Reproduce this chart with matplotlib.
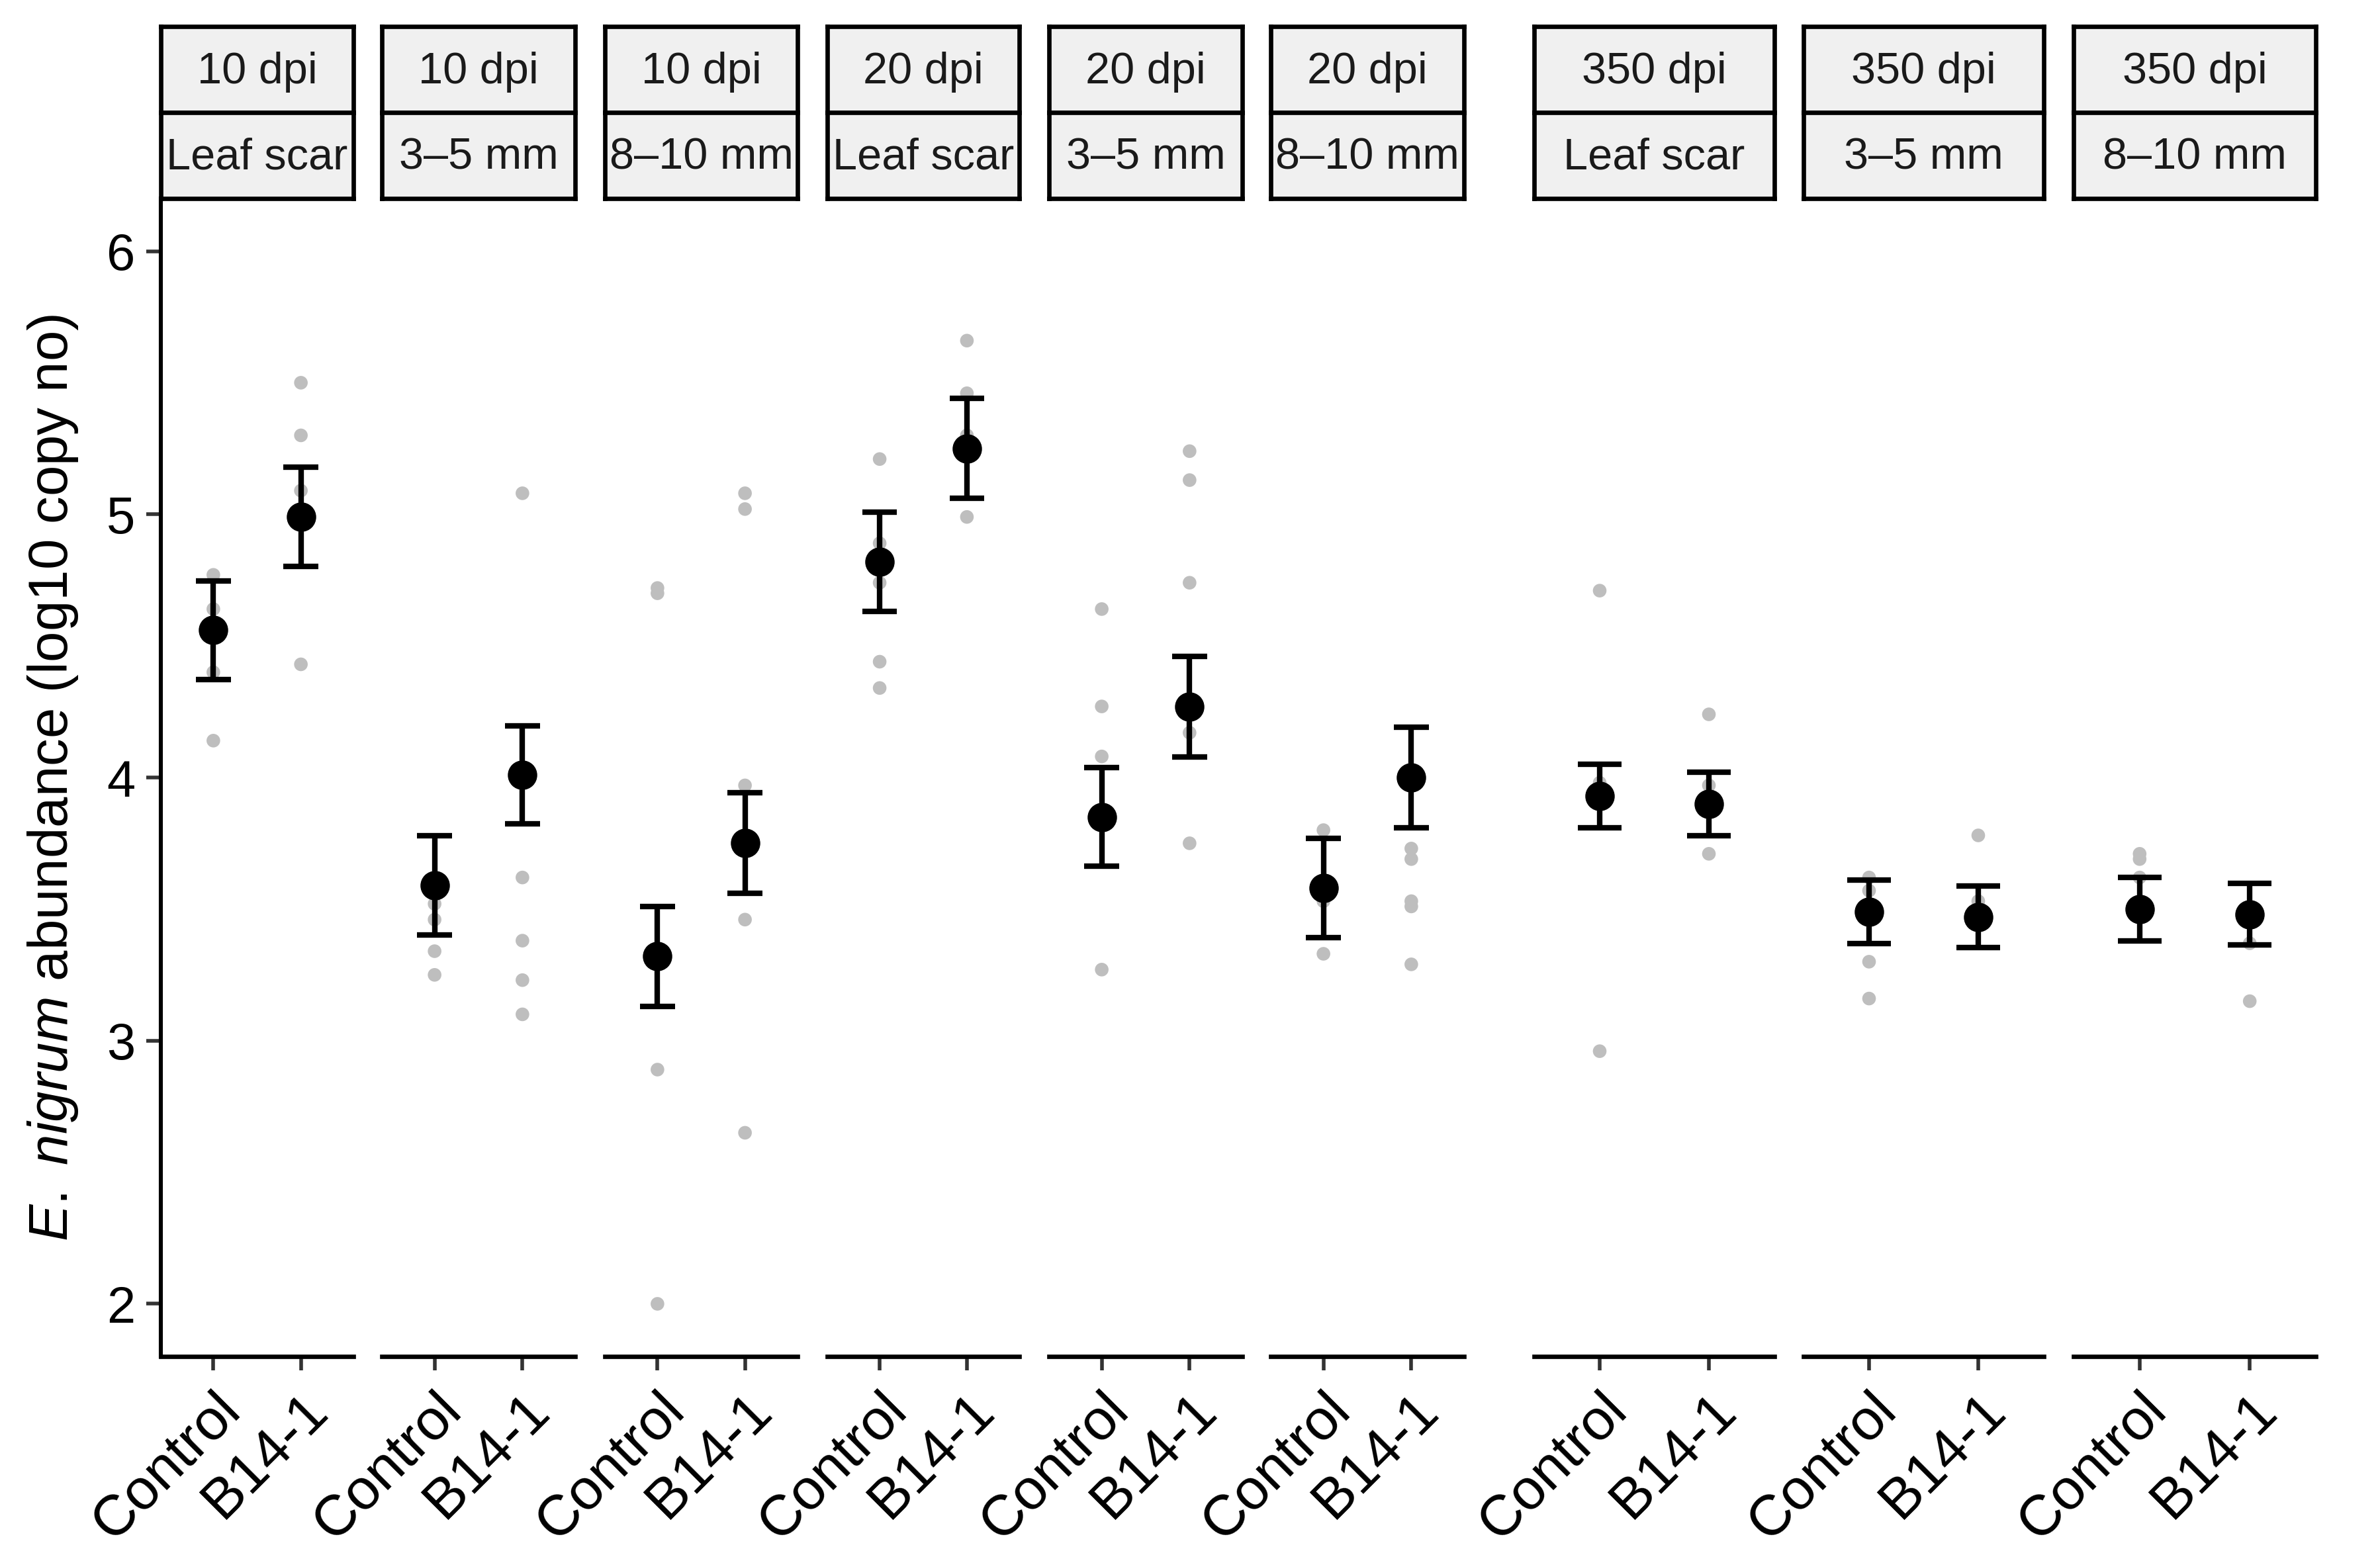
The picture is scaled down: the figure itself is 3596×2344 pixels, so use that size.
import matplotlib
matplotlib.use("Agg")
import matplotlib.pyplot as plt

plt.rcParams['font.family'] = ['Liberation Sans', 'DejaVu Sans']
plt.rcParams['mathtext.fontset'] = 'custom'
plt.rcParams['mathtext.rm'] = 'Liberation Sans'
plt.rcParams['mathtext.it'] = 'Liberation Sans:italic'

# facet labels
dpi_labels = ['10 dpi', '10 dpi', '10 dpi', '20 dpi', '20 dpi', '20 dpi',
              '350 dpi', '350 dpi', '350 dpi']
tissue_labels = ['Leaf scar', '3–5 mm', '8–10 mm', 'Leaf scar', '3–5 mm', '8–10 mm',
                 'Leaf scar', '3–5 mm', '8–10 mm']
groups = ['Control', 'B14-1']

# means and standard errors (Control, B14-1) per panel
ctrl_mean = [4.56, 3.59, 3.32, 4.82, 3.85, 3.58, 3.93, 3.49, 3.50]
ctrl_se = [0.187, 0.188, 0.19, 0.188, 0.187, 0.188, 0.12, 0.12, 0.12]
b14_mean = [4.99, 4.01, 3.75, 5.25, 4.27, 4.00, 3.90, 3.47, 3.48]
b14_se = [0.189, 0.185, 0.191, 0.19, 0.191, 0.19, 0.12, 0.117, 0.117]

# individual replicates
ctrl_pts = [
    [4.77, 4.64, 4.40, 4.14],
    [3.52, 3.46, 3.34, 3.25],
    [4.72, 4.70, 2.89, 2.00],
    [5.21, 4.89, 4.74, 4.44, 4.34],
    [4.64, 4.27, 4.08, 3.27],
    [3.80, 3.53, 3.33],
    [4.71, 3.98, 2.96],
    [3.62, 3.57, 3.30, 3.16],
    [3.71, 3.69, 3.62],
]
b14_pts = [
    [5.50, 5.30, 5.09, 4.43],
    [5.08, 3.62, 3.38, 3.23, 3.10],
    [5.08, 5.02, 3.97, 3.46, 2.65],
    [5.66, 5.46, 5.30, 4.99],
    [5.24, 5.13, 4.74, 4.17, 3.75],
    [3.73, 3.69, 3.53, 3.51, 3.29],
    [4.24, 3.97, 3.71],
    [3.78, 3.53, 3.50],
    [3.50, 3.37, 3.15],
]

W, H = 3596, 2344
fig = plt.figure(figsize=(W / 200, H / 200), dpi=200)

# panel extents in pixels
panel_x = [(243, 534), (577, 869), (914, 1205), (1250, 1540), (1585, 1877),
           (1920, 2212), (2318, 2681), (2725, 3088), (3133, 3499)]
top_px, bot_px = 300, 2050
strip_h = 130

for i, (x0, x1) in enumerate(panel_x):
    ax = fig.add_axes([x0 / W, 1 - bot_px / H, (x1 - x0) / W, (bot_px - top_px) / H])
    xs = [1, 2]
    for x, pts in zip(xs, [ctrl_pts[i], b14_pts[i]]):
        ax.scatter([x] * len(pts), pts, s=55, color='#BEBEBE', edgecolors='none', zorder=1)
    means = [ctrl_mean[i], b14_mean[i]]
    ses = [ctrl_se[i], b14_se[i]]
    for x, m, se in zip(xs, means, ses):
        ax.vlines(x, m - se, m + se, color='black', lw=3, zorder=2)
        ax.hlines([m - se, m + se], x - 0.2, x + 0.2, color='black', lw=3, zorder=2)
    ax.plot(xs, means, 'o', color='black', ms=15, ls='none', zorder=3)

    ax.set_xlim(0.4, 2.6)
    ax.set_ylim(1.8, 6.2)
    ax.set_xticks(xs)
    ax.set_xticklabels(groups, rotation=45, ha='right', va='top',
                       rotation_mode='anchor', fontsize=31)
    ax.tick_params(axis='x', length=7.5, width=2, color='#333333', pad=7)
    for s in ['top', 'right']:
        ax.spines[s].set_visible(False)
    ax.spines['bottom'].set_linewidth(2.4)
    if i == 0:
        ax.spines['left'].set_linewidth(2.2)
        ax.set_yticks([2, 3, 4, 5, 6])
        ax.tick_params(axis='y', length=8, width=2, color='#333333', pad=6, labelsize=28)
    else:
        ax.spines['left'].set_visible(False)
        ax.set_yticks([])

    # facet strips
    for j, lab in enumerate([dpi_labels[i], tissue_labels[i]]):
        sy0 = top_px - (2 - j) * strip_h
        sax = fig.add_axes([x0 / W, 1 - (sy0 + strip_h) / H, (x1 - x0) / W, strip_h / H])
        sax.set_facecolor('#F0F0F0')
        sax.set_xticks([])
        sax.set_yticks([])
        for s in sax.spines.values():
            s.set_linewidth(2.4)
            s.set_color('black')
        sax.text(0.5, 0.47, lab, ha='center', va='center', fontsize=24,
                 color='#1A1A1A', transform=sax.transAxes)

fig.text(80 / W, 1 - 1175 / H, r'$\mathit{E.\ nigrum}$ abundance (log10 copy no)',
         rotation=90, ha='center', va='center', fontsize=30)

fig.savefig('out.png', dpi=200, facecolor='white')
